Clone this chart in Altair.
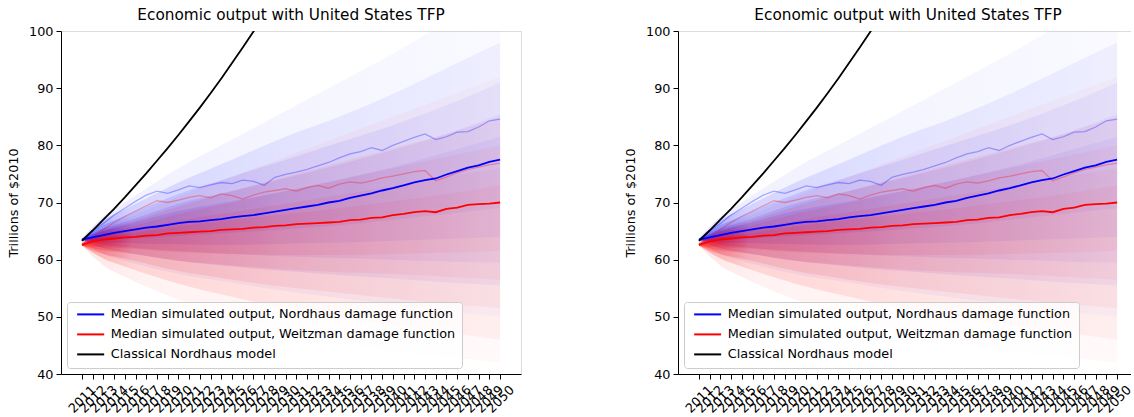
import altair as alt
import pandas as pd

FONT = "DejaVu Sans"
TITLE = "Economic output with United States TFP"
TEXT_SIZE = 12.8
TITLE_SIZE = 15.3

# Simulation years
years = list(range(2011, 2051))

# Median simulated output (trillions of 2010 dollars)
median_nordhaus = [63.5, 63.9, 64.3, 64.7, 65.0, 65.3, 65.6, 65.8, 66.1, 66.4,
                   66.6, 66.7, 66.9, 67.1, 67.4, 67.6, 67.8, 68.1, 68.4, 68.7,
                   69.0, 69.3, 69.6, 70.0, 70.3, 70.8, 71.2, 71.6, 72.1, 72.5,
                   73.0, 73.5, 73.9, 74.2, 74.9, 75.5, 76.1, 76.5, 77.1, 77.5]
median_weitzman = [62.6, 63.2, 63.5, 63.7, 63.9, 64.0, 64.2, 64.3, 64.6, 64.7,
                   64.8, 64.9, 65.0, 65.2, 65.3, 65.4, 65.6, 65.7, 65.9, 66.0,
                   66.2, 66.3, 66.4, 66.5, 66.6, 66.9, 67.0, 67.3, 67.4, 67.8,
                   68.0, 68.3, 68.5, 68.3, 68.9, 69.1, 69.6, 69.7, 69.8, 70.0]

# Classical Nordhaus model path (leaves the plotted range after 2027)
classical_years = list(range(2011, 2029))
classical_nordhaus = [63.3, 65.1, 67.0, 68.9, 70.9, 73.0, 75.1, 77.3, 79.5,
                      81.8, 84.2, 86.6, 89.1, 91.7, 94.4, 97.1, 99.9, 102.8]

# Two individual simulated paths that stand out from the ensemble
path_nordhaus = [63.5, 65.0, 66.3, 67.8, 69.0, 70.2, 71.3, 72.0, 71.6, 72.2,
                 72.9, 72.6, 73.1, 73.5, 73.3, 73.9, 73.7, 73.0, 74.4, 74.9,
                 75.3, 75.8, 76.4, 77.0, 77.8, 78.5, 78.9, 79.6, 79.1, 80.0,
                 80.7, 81.4, 82.0, 81.0, 81.5, 82.3, 82.4, 83.2, 84.3, 84.6]
path_weitzman = [62.8, 64.0, 65.3, 66.5, 67.6, 68.5, 69.4, 70.3, 70.0, 70.4,
                 70.9, 71.2, 70.8, 71.5, 71.2, 70.6, 71.3, 71.8, 72.1, 72.4,
                 72.0, 72.6, 73.0, 72.5, 73.2, 73.6, 73.4, 73.8, 74.3, 74.6,
                 75.0, 75.4, 75.6, 73.8, 74.5, 75.2, 75.8, 76.2, 76.6, 76.9]

# Spread of the simulated ensembles: nested envelopes, widest first
band_years = [2011, 2013, 2015, 2020, 2025, 2030, 2035, 2040, 2045, 2050]
nordhaus_bands = [
    ([63.3, 61.0, 59.8, 57.5, 56.0, 54.5, 53.3, 52.2, 51.0, 50.0],
     [63.7, 67.5, 70.0, 76.0, 81.0, 86.0, 91.0, 96.0, 101.5, 107.0]),
    ([63.4, 62.0, 61.3, 59.8, 58.8, 58.0, 57.3, 56.7, 56.0, 55.5],
     [63.6, 66.8, 68.8, 73.5, 77.5, 81.5, 85.0, 89.0, 93.5, 98.0]),
    ([63.4, 62.6, 62.2, 61.5, 61.0, 60.6, 60.3, 60.0, 59.7, 59.5],
     [63.6, 66.0, 67.6, 71.5, 74.5, 77.5, 80.5, 83.5, 87.0, 91.0]),
    ([63.4, 63.0, 62.9, 62.7, 62.6, 62.8, 63.0, 63.3, 63.6, 64.0],
     [63.6, 65.4, 66.6, 69.8, 72.0, 74.3, 76.6, 79.2, 82.0, 85.5]),
    ([63.4, 63.4, 63.6, 64.2, 64.7, 65.3, 66.0, 67.0, 68.0, 69.0],
     [63.6, 65.0, 66.0, 68.5, 70.2, 72.0, 74.0, 76.2, 78.8, 81.5]),
]
weitzman_bands = [
    ([62.5, 59.0, 57.0, 53.0, 50.0, 47.5, 45.5, 44.0, 43.0, 42.0],
     [62.8, 65.5, 67.0, 71.0, 74.5, 78.0, 81.5, 85.0, 88.5, 92.0]),
    ([62.5, 60.2, 58.8, 55.8, 53.5, 51.5, 50.0, 48.5, 47.3, 46.0],
     [62.8, 65.0, 66.2, 69.3, 72.0, 74.5, 77.0, 79.5, 82.0, 85.0]),
    ([62.5, 61.0, 60.2, 58.0, 56.5, 55.2, 54.2, 53.2, 52.3, 51.5],
     [62.8, 64.6, 65.5, 68.0, 70.0, 72.0, 74.0, 76.0, 78.0, 80.0]),
    ([62.5, 61.6, 61.2, 59.8, 59.0, 58.3, 57.8, 57.5, 57.0, 56.5],
     [62.8, 64.2, 64.8, 66.8, 68.3, 69.8, 71.3, 72.8, 74.5, 76.0]),
    ([62.5, 62.2, 62.0, 61.3, 61.0, 60.8, 60.8, 61.0, 61.2, 61.5],
     [62.8, 63.9, 64.4, 65.8, 67.0, 68.0, 69.0, 70.2, 71.5, 73.0]),
]

SERIES = ["Median simulated output, Nordhaus damage function",
          "Median simulated output, Weitzman damage function",
          "Classical Nordhaus model"]
COLORS = ["#0000ff", "#ff0000", "#000000"]

x_scale = alt.Scale(domain=[2009.05, 2051.95], nice=False, zero=False)
y_scale = alt.Scale(domain=[40, 100], nice=False, zero=False)

x_axis = alt.Axis(values=years, format="d", labelAngle=-45,
                  labelAlign="center", labelBaseline="middle",
                  labelPadding=20, labelOverlap=False, labelFlush=False,
                  labelFontSize=TEXT_SIZE, labelFont=FONT, labelColor="black",
                  tickSize=5, tickColor="black", domainColor="black",
                  grid=False, title=None)
y_axis = alt.Axis(values=[40, 50, 60, 70, 80, 90, 100], format="d",
                  labelFontSize=TEXT_SIZE, labelFont=FONT, labelColor="black",
                  labelPadding=3, tickSize=5, tickColor="black",
                  domainColor="black", grid=False,
                  title="Trillions of $2010", titleFont=FONT,
                  titleFontSize=TEXT_SIZE, titleFontWeight="normal",
                  titleColor="black", titlePadding=8)


def X():
    return alt.X("year:Q", scale=x_scale, axis=x_axis)


def Y(field):
    return alt.Y(f"{field}:Q", scale=y_scale, axis=y_axis)


def fade(rgb, alphas):
    # alphas: (offset, opacity) pairs along the time axis
    return alt.Gradient(
        gradient="linear", x1=0, x2=1, y1=0, y2=0,
        stops=[alt.GradientStop(color=f"rgba({rgb},{a})", offset=o)
               for o, a in alphas])


OUTER_FADE = [(0, 0.10), (0.15, 0.05), (1, 0.025)]
INNER_FADE = [(0, 0.28), (0.12, 0.12), (0.5, 0.075), (1, 0.045)]


def band(lo, hi, rgb, alphas):
    df = pd.DataFrame({"year": band_years, "lo": lo, "hi": hi})
    return alt.Chart(df).mark_area(
        fill=fade(rgb, alphas), interpolate="monotone", clip=True
    ).encode(x=X(), y=Y("lo"), y2="hi:Q")


def ensemble(bands, rgb):
    return [band(lo, hi, rgb, OUTER_FADE if i == 0 else INNER_FADE)
            for i, (lo, hi) in enumerate(bands)]


def panel():
    layers = ensemble(nordhaus_bands, "0,0,255") + ensemble(weitzman_bands, "255,0,0")

    paths_df = pd.DataFrame({
        "year": years * 2,
        "value": path_nordhaus + path_weitzman,
        "path": ["n"] * len(years) + ["w"] * len(years),
    })
    layers.append(alt.Chart(paths_df).mark_line(
        strokeWidth=1.3, opacity=0.3, clip=True
    ).encode(
        x=X(), y=Y("value"),
        color=alt.Color("path:N", scale=alt.Scale(domain=["n", "w"],
                                                  range=["#0000ff", "#ff0000"]),
                        legend=None),
    ))

    lines_df = pd.DataFrame({
        "year": years + years + classical_years,
        "value": median_nordhaus + median_weitzman + classical_nordhaus,
        "series": [SERIES[0]] * len(years) + [SERIES[1]] * len(years)
                  + [SERIES[2]] * len(classical_years),
    })
    layers.append(alt.Chart(lines_df).mark_line(strokeWidth=1.8, clip=True).encode(
        x=X(), y=Y("value"),
        color=alt.Color("series:N", scale=alt.Scale(domain=SERIES, range=COLORS),
                        legend=alt.Legend(
                            title=None, orient="bottom-left", offset=6,
                            symbolType="M-0.5,0H5.5", symbolSize=81,
                            symbolStrokeWidth=2, labelFontSize=TEXT_SIZE,
                            labelFont=FONT, labelColor="black", labelOffset=25,
                            labelLimit=0, rowPadding=6, padding=6,
                            cornerRadius=3, strokeColor="#cccccc",
                            fillColor="rgba(255,255,255,0.8)")),
    ))

    return alt.layer(*layers).resolve_scale(color="independent").properties(
        width=460, height=343,
        title=alt.TitleParams(TITLE, fontSize=TITLE_SIZE, font=FONT,
                              fontWeight="normal", color="black", offset=2,
                              frame="group", anchor="middle"),
    )


chart = alt.hconcat(panel(), panel(), spacing=102).resolve_legend(
    color="independent").properties(
    padding={"left": 7, "top": 7, "right": -8, "bottom": 0}
).configure_view(stroke="black", strokeWidth=1).configure(background="white")

chart.save("out.html", embed_options={"renderer": "svg", "actions": False})
